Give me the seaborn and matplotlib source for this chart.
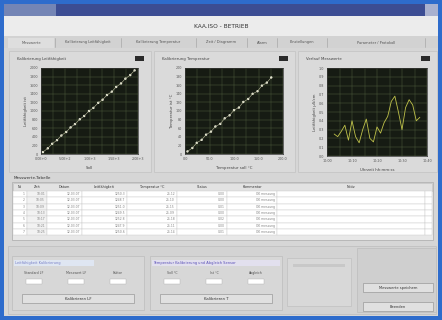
import matplotlib
matplotlib.use('Agg')
import matplotlib.pyplot as plt
import seaborn as sns
import pandas as pd
from matplotlib.patches import Rectangle

sns.set_theme(style='dark')
plt.rcParams['font.family'] = ['DejaVu Sans']

W, H = 442, 320

# calibration 1 (reference vs measured)
cal1_ref = [40, 140, 230, 330, 420, 520, 610, 700, 800, 890, 990, 1080, 1180, 1270, 1360, 1460, 1550, 1650, 1740, 1840, 1930]
cal1_meas = [45, 132, 238, 322, 430, 512, 618, 695, 808, 884, 1000, 1072, 1190, 1262, 1372, 1450, 1560, 1642, 1752, 1836, 1945]
cal1_xticks = ['0.0E+0', '5.0E+2', '1.0E+3', '1.5E+3', '2.0E+3']

# calibration 2
cal2_ref = [5, 15, 24, 34, 43, 53, 62, 72, 81, 91, 100, 110, 119, 129, 138, 148, 157, 167, 176]
cal2_meas = [6, 14, 26, 33, 45, 52, 64, 70, 83, 90, 102, 108, 121, 128, 140, 146, 159, 166, 178]
cal2_xticks = ['0.0', '50.0', '100.0', '150.0', '200.0']

# time trend
trend_t = list(range(25))
trend_v = [0.25, 0.22, 0.28, 0.35, 0.18, 0.40, 0.22, 0.15, 0.30, 0.42, 0.20, 0.16, 0.33,
           0.26, 0.38, 0.45, 0.62, 0.68, 0.50, 0.30, 0.55, 0.64, 0.58, 0.40, 0.44]
trend_xticks = ['10:00', '10:10', '10:20', '10:30', '10:40']

panel_titles = ['Kalibrierung Leitfähigkeit', 'Kalibrierung Temperatur', 'Verlauf Messwerte']
panel_xlabels = ['Soll', 'Temperatur soll °C', 'Uhrzeit hh:mm:ss']
panel_ylabels = ['Leitfähigkeit ist', 'Temperatur ist °C', 'Leitfähigkeit µS/cm']

tabs = ['Messwerte', 'Kalibrierung Leitfähigkeit', 'Kalibrierung Temperatur',
        'Zeit / Diagramm', 'Alarm', 'Einstellungen', 'Parameter / Protokoll']

# table
tab_cols = ['Nr', 'Zeit', 'Datum', 'Leitfähigkeit', 'Temperatur °C', 'Status', 'Kommentar', 'Notiz']
tab_nr = ['1', '2', '3', '4', '5', '6', '7']
tab_time = ['10:01', '10:05', '10:09', '10:13', '10:17', '10:21', '10:25']
tab_date = ['12.03.07', '12.03.07', '12.03.07', '12.03.07', '12.03.07', '12.03.07', '12.03.07']
tab_cond = ['1250.3', '1248.7', '1251.0', '1249.5', '1252.8', '1247.9', '1250.6']
tab_temp = ['25.12', '25.10', '25.15', '25.09', '25.18', '25.11', '25.14']
tab_stat = ['0.00', '0.00', '0.01', '0.00', '0.02', '0.00', '0.01']
tab_comm = ['OK messung', 'OK messung', 'OK messung', 'OK messung', 'OK messung', 'OK messung', 'OK messung']

BG = '#d6d6d6'
DARK = '#161b13'
GRID = '#50603f'

fig = plt.figure(figsize=(W / 100, H / 100), dpi=100)
fig.patch.set_facecolor(BG)

bg = fig.add_axes([0, 0, 1, 1])
bg.set_xlim(0, W)
bg.set_ylim(H, 0)
bg.axis('off')


def box(x, y, w, h, fc, ec='none', lw=0.6, z=1):
    bg.add_patch(Rectangle((x, y), w, h, facecolor=fc, edgecolor=ec, linewidth=lw, zorder=z))


# window chrome
box(0, 0, W, H, '#2e6ccc')
box(4, 4, W - 8, H - 8, BG)
box(4, 4, W - 8, 12, '#3c4d93')
box(4, 4, 52, 12, '#7485b5', z=2)
box(425, 4, 13, 12, '#a9b1cf', z=2)
box(4, 16, W - 8, 20, '#ececec')
bg.text(221, 26, 'KAA.ISO - BETRIEB', fontsize=4.2, ha='center', va='center', color='#333333', zorder=3)

# tabs (flat strip with separators)
box(4, 36, W - 8, 12, '#d2d2d2')
tab_x = [8, 56, 122, 197, 248, 278, 328]
tab_w = [46, 64, 73, 49, 28, 48, 96]
for tx, tw, name in zip(tab_x, tab_w, tabs):
    bg.plot([tx + tw + 1, tx + tw + 1], [38, 47], color='#a8a8a8', lw=0.5, zorder=2)
    bg.text(tx + tw / 2, 42.5, name, fontsize=2.6, ha='center', va='center', color='#555555', zorder=3)
box(8, 38, 46, 10, '#dedede', z=1.5)

# panel frames
for px, pw, title in zip([9, 154, 298], [142, 141, 139], panel_titles):
    box(px, 51, pw, 121, '#dadada', ec='#c2c2c2', lw=0.5)
    bg.text(px + 8, 59, title, fontsize=2.8, ha='left', va='center', color='#444444', zorder=3)
    box(px + pw - 16, 56, 9, 5, '#2a2a2a', z=3)

# plots
specs = [(41, 68, 97, 86), (185, 68, 98, 86), (327, 68, 100, 88)]
axes = []
for (x, y, w, h) in specs:
    ax = fig.add_axes([x / W, 1 - (y + h) / H, w / W, h / H])
    ax.set_facecolor(DARK)
    axes.append(ax)

cal1 = pd.DataFrame({'ref': cal1_ref, 'meas': cal1_meas})
cal2 = pd.DataFrame({'ref': cal2_ref, 'meas': cal2_meas})
trend = pd.DataFrame({'t': trend_t, 'v': trend_v})

sns.lineplot(data=cal1, x='ref', y='meas', ax=axes[0], color='#bfc0a0', lw=0.4)
sns.scatterplot(data=cal1, x='ref', y='meas', ax=axes[0], color='#f0f0e0', s=3, edgecolor='none')
axes[0].set_xlim(0, 2000)
axes[0].set_ylim(0, 2000)
axes[0].set_xticks([0, 500, 1000, 1500, 2000])
axes[0].set_xticklabels(cal1_xticks)
axes[0].set_yticks(range(0, 2001, 200))

sns.lineplot(data=cal2, x='ref', y='meas', ax=axes[1], color='#bfc0a0', lw=0.4)
sns.scatterplot(data=cal2, x='ref', y='meas', ax=axes[1], color='#f0f0e0', s=3, edgecolor='none')
axes[1].set_xlim(0, 200)
axes[1].set_ylim(0, 200)
axes[1].set_xticks([0, 50, 100, 150, 200])
axes[1].set_xticklabels(cal2_xticks)
axes[1].set_yticks(range(0, 201, 20))

sns.lineplot(data=trend, x='t', y='v', ax=axes[2], color='#bfc24a', lw=0.6)
axes[2].set_xlim(-2, 26)
axes[2].set_ylim(0, 1)
axes[2].set_xticks([-2, 5, 12, 19, 26])
axes[2].set_xticklabels(trend_xticks)
axes[2].set_yticks([i / 10 for i in range(11)])

for ax, xl, yl in zip(axes, panel_xlabels, panel_ylabels):
    ax.grid(True, color=GRID, lw=0.35)
    ax.set_axisbelow(True)
    ax.tick_params(labelsize=2.4, colors='#555555', length=1, pad=1)
    ax.set_xlabel(xl, fontsize=2.8, color='#444444', labelpad=1)
    ax.set_ylabel(yl, fontsize=2.8, color='#444444', labelpad=1)
    for s in ax.spines.values():
        s.set_color('#333333')
        s.set_linewidth(0.5)
    major = list(ax.get_xticks())
    ax.set_xticks([(a + b) / 2 for a, b in zip(major[:-1], major[1:])], minor=True)
    ax.grid(True, which='minor', axis='x', color=GRID, lw=0.3)

# table
bg.text(14, 178, 'Messwerte-Tabelle', fontsize=3.0, ha='left', va='center', color='#333333', zorder=3)
box(12, 182, 421, 58, '#e8e8e8', ec='#a8a8a8', lw=0.5)
col_edges = [13, 27, 47, 82, 127, 177, 227, 277, 425, 432]
box(13, 183, 419, 8, '#e2e2e2', ec='#b8b8b8', lw=0.4, z=2)
for i, name in enumerate(tab_cols):
    cx = (col_edges[i] + col_edges[i + 1]) / 2
    bg.text(cx, 187, name, fontsize=2.4, ha='center', va='center', color='#333333', zorder=3)
row_h = 6.3
columns = [tab_nr, tab_time, tab_date, tab_cond, tab_temp, tab_stat, tab_comm]
for r in range(len(tab_nr)):
    ry = 191 + r * row_h
    for c in range(len(col_edges) - 1):
        fc = '#ffffff' if c != 1 else '#f2f2f2'
        box(col_edges[c], ry, col_edges[c + 1] - col_edges[c], row_h, fc, ec='#c8c8c8', lw=0.3, z=2)
    for c, col in enumerate(columns):
        bg.text(col_edges[c + 1] - 2, ry + row_h / 2, col[r], fontsize=2.2, ha='right', va='center',
                color='#808080', zorder=3)

# bottom controls
box(8, 246, 428, 68, '#d3d3d3', ec='#bdbdbd', lw=0.5)
groups = [(12, 'Leitfähigkeit Kalibrierung', '#7a82c8', '#dfe6f2', 'Kalibrieren LF'),
          (150, 'Temperatur Kalibrierung und Abgleich Sensor', '#5a4fb8', '#e2e0ee', 'Kalibrieren T')]
field_lbls = [['Standard LF', 'Messwert LF', 'Faktor'], ['Soll °C', 'Ist °C', 'Abgleich']]
for (gx, gl, gc, hl, btn), flds in zip(groups, field_lbls):
    box(gx, 256, 132, 54, '#d7d7d7', ec='#bcbcbc', lw=0.5)
    box(gx + 2, 260, 80 if gx == 12 else 128, 6, hl, z=2)
    bg.text(gx + 3, 263, gl, fontsize=2.6, ha='left', va='center', color=gc, zorder=3)
    for k, fl in enumerate(flds):
        fx = gx + 8 + k * 42
        bg.text(fx + 14, 273, fl, fontsize=2.3, ha='center', va='center', color='#555555', zorder=3)
        box(fx + 6, 279, 16, 5, '#ffffff', ec='#b0b0b0', lw=0.3, z=2)
    box(gx + 10, 294, 112, 9, '#e0e0e0', ec='#9a9a9a', lw=0.5, z=2)
    bg.text(gx + 66, 298.5, btn, fontsize=2.8, ha='center', va='center', color='#333333', zorder=3)

box(287, 258, 64, 48, '#d8d8d8', ec='#c0c0c0', lw=0.5)
box(293, 264, 52, 3, '#c8c8c8', z=2)
box(357, 248, 79, 64, '#cfcfcf', ec='#bdbdbd', lw=0.5)
box(363, 283, 70, 9, '#e0e0e0', ec='#9a9a9a', lw=0.5, z=2)
bg.text(398, 287.5, 'Messwerte speichern', fontsize=2.6, ha='center', va='center', color='#333333', zorder=3)
box(363, 302, 70, 9, '#e0e0e0', ec='#9a9a9a', lw=0.5, z=2)
bg.text(398, 306.5, 'Beenden', fontsize=2.6, ha='center', va='center', color='#333333', zorder=3)

fig.savefig('out.png', dpi=100, facecolor=fig.get_facecolor())
